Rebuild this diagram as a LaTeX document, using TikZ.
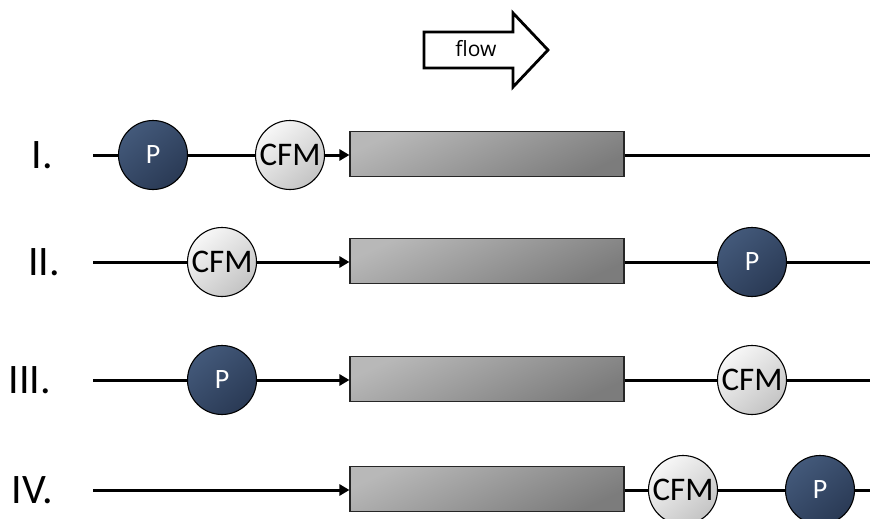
\documentclass[tikz,border=0pt]{standalone}
\usepackage{fontspec}
\setmainfont{Carlito}
\newfontfamily\flowfont{Open Sans}
\usetikzlibrary{arrows.meta}
\definecolor{pdarkA}{HTML}{43597A}
\definecolor{pdarkB}{HTML}{2A3A55}
\definecolor{cfmA}{HTML}{F7F7F7}
\definecolor{cfmB}{HTML}{C4C4C4}
\definecolor{boxA}{HTML}{B8B8B8}
\definecolor{boxB}{HTML}{7C7C7C}
\tikzset{
  pipe/.style={line width=3pt},
  feed/.style={line width=3pt,-{Triangle[length=10pt,width=11pt]}},
  pump/.style={circle,draw=black,line width=1.1pt,minimum size=69pt,inner sep=0pt,
    top color=pdarkA,bottom color=pdarkB,shading angle=40,
    text=white,font=\fontsize{28}{28}\selectfont},
  meter/.style={circle,draw=black,line width=1.1pt,minimum size=69pt,inner sep=0pt,
    top color=cfmA,bottom color=cfmB,shading angle=40,
    font=\fontsize{33}{33}\selectfont},
  column/.style={rectangle,draw=black!85,line width=1.1pt,minimum width=274pt,minimum height=45pt,
    inner sep=0pt,top color=boxA,bottom color=boxB,shading angle=25},
  rowlabel/.style={anchor=east,inner sep=0pt,font=\fontsize{42}{42}\selectfont},
}
\begin{document}
\begin{tikzpicture}[x=1pt,y=-1pt]
\useasboundingbox (0,0) rectangle (870,519);
% flow arrow
\draw[line width=2.8pt,line join=miter,fill=white]
  (424,32) -- (513,32) -- (513,13) -- (548,50) -- (513,87) -- (513,68) -- (424,68) -- cycle;
\node[font=\flowfont\fontsize{21}{21}\selectfont] (flowtxt) at (476,49) {flow};
% row I
\node[rowlabel] (l1) at (53,155) {I.};
\coordinate (s1) at (93,155);
\coordinate (e1) at (870,155);
\node[pump] (p1) at (153,155) {P};
\node[meter] (c1) at (290,155) {CFM};
\node[column] (r1) at (487,154) {};
\draw[pipe] (s1) -- (p1);
\draw[pipe] (p1) -- (c1);
\draw[feed] (c1) -- (r1.west |- c1);
\draw[pipe] (r1.east |- e1) -- (e1);
% row II
\node[rowlabel] (l2) at (60,262) {II.};
\coordinate (s2) at (93,262);
\coordinate (e2) at (870,262);
\node[meter] (c2) at (222,262) {CFM};
\node[column] (r2) at (487,261) {};
\node[pump] (p2) at (752,262) {P};
\draw[pipe] (s2) -- (c2);
\draw[feed] (c2) -- (r2.west |- c2);
\draw[pipe] (r2.east |- p2) -- (p2);
\draw[pipe] (p2) -- (e2);
% row III
\node[rowlabel] (l3) at (51,380) {III.};
\coordinate (s3) at (93,380);
\coordinate (e3) at (870,380);
\node[pump] (p3) at (222,380) {P};
\node[column] (r3) at (487,379) {};
\node[meter] (c3) at (752,380) {CFM};
\draw[pipe] (s3) -- (p3);
\draw[feed] (p3) -- (r3.west |- p3);
\draw[pipe] (r3.east |- c3) -- (c3);
\draw[pipe] (c3) -- (e3);
% row IV
\node[rowlabel] (l4) at (53,490) {IV.};
\coordinate (s4) at (93,490);
\coordinate (e4) at (870,490);
\node[column] (r4) at (487,489) {};
\node[meter] (c4) at (683,490) {CFM};
\node[pump] (p4) at (820,490) {P};
\draw[feed] (s4) -- (r4.west |- s4);
\draw[pipe] (r4.east |- c4) -- (c4);
\draw[pipe] (c4) -- (p4);
\draw[pipe] (p4) -- (e4);
\end{tikzpicture}
\end{document}
